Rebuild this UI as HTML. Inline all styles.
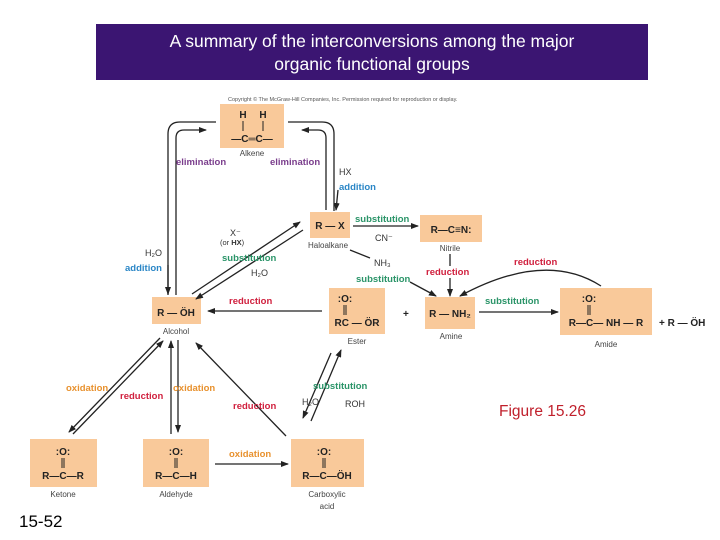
<!DOCTYPE html>
<html><head><meta charset="utf-8"><style>
html,body{margin:0;padding:0;background:#fff;width:720px;height:540px;overflow:hidden}
svg{display:block;font-family:"Liberation Sans",sans-serif}
.b{fill:#f9c99a}
.m{font-size:10px;font-weight:bold;fill:#222}
.n{font-size:8px;fill:#444}
.l{font-size:9.5px;font-weight:bold}
.ox{fill:#e8912e}.rd{fill:#d0203e}.el{fill:#7a3d8c}.ad{fill:#2a86c6}.sb{fill:#2a9468}
.ln{stroke:#222;stroke-width:1.3;fill:none}
.bd{stroke:#222;stroke-width:1;fill:none}
.k{font-size:9px;fill:#333}
</style></head><body>
<svg width="720" height="540" viewBox="0 0 720 540">
<defs><marker id="a" markerWidth="8" markerHeight="6" refX="7" refY="3" orient="auto" markerUnits="userSpaceOnUse"><path d="M0,0 L8,3 L0,6 z" fill="#222"/></marker></defs>
<rect x="96" y="24" width="552" height="56" fill="#3b1572"/>
<text x="372" y="47" text-anchor="middle" fill="#fff" font-size="17.5">A summary of the interconversions among the major</text>
<text x="372" y="70" text-anchor="middle" fill="#fff" font-size="17.5">organic functional groups</text>
<text x="228" y="101" font-size="5.5" fill="#555">Copyright © The McGraw-Hill Companies, Inc. Permission required for reproduction or display.</text>

<!-- boxes -->
<rect class="b" x="220" y="104" width="64" height="44"/>
<text class="m" x="243" y="118" text-anchor="middle">H</text>
<text class="m" x="263" y="118" text-anchor="middle">H</text>
<path class="bd" d="M243,121 V131 M263,121 V131"/>
<text class="m" x="252" y="142" text-anchor="middle">—C═C—</text>
<text class="n" x="252" y="156" text-anchor="middle">Alkene</text>
<rect class="b" x="310" y="212" width="40" height="26"/>
<text class="m" x="330" y="229" text-anchor="middle">R — X</text>
<text class="n" x="328" y="248" text-anchor="middle">Haloalkane</text>
<rect class="b" x="420" y="215" width="62" height="27"/>
<text class="m" x="451" y="233" text-anchor="middle">R—C≡N:</text>
<text class="n" x="450" y="251" text-anchor="middle">Nitrile</text>
<rect class="b" x="152" y="297" width="49" height="27"/>
<text class="m" x="176" y="316" text-anchor="middle">R — ÖH</text>
<text class="n" x="176" y="334" text-anchor="middle">Alcohol</text>
<rect class="b" x="329" y="288" width="56" height="46"/>
<text class="m" x="345" y="302" text-anchor="middle">:O:</text>
<path class="bd" d="M344,305 V315 M346,305 V315"/>
<text class="m" x="357" y="326" text-anchor="middle">RC — ÖR</text>
<text class="n" x="357" y="344" text-anchor="middle">Ester</text>
<text class="m" x="403" y="317">+</text>
<rect class="b" x="425" y="297" width="50" height="32"/>
<text class="m" x="450" y="317" text-anchor="middle">R — NH₂</text>
<text class="n" x="451" y="339" text-anchor="middle">Amine</text>
<rect class="b" x="560" y="288" width="92" height="47"/>
<text class="m" x="589" y="302" text-anchor="middle">:O:</text>
<path class="bd" d="M588,305 V315 M590,305 V315"/>
<text class="m" x="606" y="326" text-anchor="middle">R—C— NH — R</text>
<text class="n" x="606" y="347" text-anchor="middle">Amide</text>
<text class="m" x="659" y="326">+ R — ÖH</text>
<rect class="b" x="30" y="439" width="67" height="48"/>
<text class="m" x="63" y="455" text-anchor="middle">:O:</text>
<path class="bd" d="M62,458 V468 M64,458 V468"/>
<text class="m" x="63" y="479" text-anchor="middle">R—C—R</text>
<text class="n" x="63" y="497" text-anchor="middle">Ketone</text>
<rect class="b" x="143" y="439" width="66" height="48"/>
<text class="m" x="176" y="455" text-anchor="middle">:O:</text>
<path class="bd" d="M175,458 V468 M177,458 V468"/>
<text class="m" x="176" y="479" text-anchor="middle">R—C—H</text>
<text class="n" x="176" y="497" text-anchor="middle">Aldehyde</text>
<rect class="b" x="291" y="439" width="73" height="48"/>
<text class="m" x="324" y="455" text-anchor="middle">:O:</text>
<path class="bd" d="M323,458 V468 M325,458 V468"/>
<text class="m" x="327" y="479" text-anchor="middle">R—C—ÖH</text>
<text class="n" x="327" y="497" text-anchor="middle">Carboxylic</text>
<text class="n" x="327" y="509" text-anchor="middle">acid</text>

<!-- alkene loops -->
<path class="ln" d="M216,122 H180 Q168,122 168,134 V295"/>
<path class="ln" d="M176,295 V138 Q176,130 184,130 H206" marker-end="url(#a)"/>
<path class="ln" d="M288,122 H322 Q334,122 334,134 V211"/>
<path class="ln" d="M326,210 V138 Q326,130 318,130 H302" marker-end="url(#a)"/>
<path class="ln" d="M168,265 V294" marker-end="url(#a)"/>
<path class="ln" d="M338,190 L336,210" marker-end="url(#a)"/>
<text class="l el" x="176" y="165">elimination</text>
<text class="l el" x="270" y="165">elimination</text>
<text class="k" x="339" y="175">HX</text>
<text class="l ad" x="339" y="190">addition</text>
<text class="k" x="145" y="256">H₂O</text>
<text class="l ad" x="125" y="271">addition</text>

<!-- alcohol <-> haloalkane -->
<path class="ln" d="M192,294 L300,222" marker-end="url(#a)"/>
<path class="ln" d="M303,230 L196,299" marker-end="url(#a)"/>
<text class="k" x="230" y="236">X⁻</text>
<text x="220" y="245" font-size="7.5" fill="#333">(or <tspan font-weight="bold">HX</tspan>)</text>
<text class="l sb" x="222" y="261">substitution</text>
<text class="k" x="251" y="276">H₂O</text>

<path class="ln" d="M353,226 L418,226" marker-end="url(#a)"/>
<text class="l sb" x="355" y="222">substitution</text>
<text class="k" x="375" y="241">CN⁻</text>
<path class="ln" d="M350,250 L370,258"/>
<path class="ln" d="M410,282 L436,296" marker-end="url(#a)"/>
<text class="k" x="374" y="266">NH₃</text>
<text class="l sb" x="356" y="282">substitution</text>
<path class="ln" d="M450,254 V266"/>
<path class="ln" d="M450,278 V296" marker-end="url(#a)"/>
<text class="l rd" x="426" y="275">reduction</text>
<path class="ln" d="M601,286 Q545,250 460,296" marker-end="url(#a)"/>
<text class="l rd" x="514" y="265">reduction</text>
<path class="ln" d="M479,312 L558,312" marker-end="url(#a)"/>
<text class="l sb" x="485" y="304">substitution</text>
<path class="ln" d="M322,311 L208,311" marker-end="url(#a)"/>
<text class="l rd" x="229" y="304">reduction</text>
<path class="ln" d="M331,353 L303,418" marker-end="url(#a)"/>
<path class="ln" d="M311,421 L341,350" marker-end="url(#a)"/>
<text class="l sb" x="313" y="389">substitution</text>
<text class="k" x="302" y="405">H₂O</text>
<text class="k" x="345" y="407">ROH</text>

<path class="ln" d="M160,338 L69,432" marker-end="url(#a)"/>
<path class="ln" d="M73,434 L163,341" marker-end="url(#a)"/>
<text class="l ox" x="66" y="391">oxidation</text>
<text class="l rd" x="120" y="399">reduction</text>
<path class="ln" d="M171,434 V341" marker-end="url(#a)"/>
<path class="ln" d="M178,340 V432" marker-end="url(#a)"/>
<text class="l ox" x="173" y="391">oxidation</text>
<path class="ln" d="M286,436 L196,343" marker-end="url(#a)"/>
<text class="l rd" x="233" y="409">reduction</text>
<path class="ln" d="M215,464 L288,464" marker-end="url(#a)"/>
<text class="l ox" x="229" y="457">oxidation</text>

<text x="499" y="416" font-size="15.5" fill="#c0202c">Figure 15.26</text>
<text x="19" y="527" font-size="17" fill="#000">15-52</text>
</svg>
</body></html>
